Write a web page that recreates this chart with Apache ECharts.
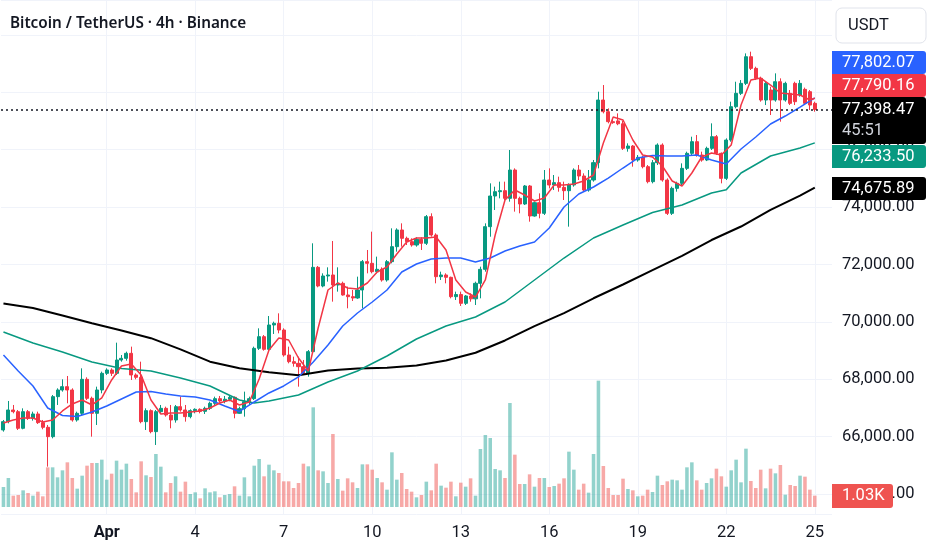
<!DOCTYPE html>
<html>
<head>
<meta charset="utf-8">
<title>BTCUSDT 4h</title>
<script src="https://cdn.jsdelivr.net/npm/echarts@6/dist/echarts.min.js"></script>
<style>
  html, body { margin: 0; padding: 0; background: #ffffff; }
  #chart { width: 932px; height: 550px; }
</style>
</head>
<body>
<div id="chart"></div>
<script>
// first candle opens 28 Mar 12:00, one candle every 4 hours
const firstCandle = Date.UTC(2025, 2, 28, 12);
const stepMs = 4 * 3600 * 1000;
const emptySlots = 3; // free space right of the last candle

// tick labels on the time axis
const tickDates = ['04-01 00:00', '04-04 00:00', '04-07 00:00', '04-10 00:00', '04-13 00:00',
  '04-16 00:00', '04-19 00:00', '04-22 00:00', '04-25 00:00'];
const tickTexts = ['Apr', '4', '7', '10', '13', '16', '19', '22', '25'];

// candles: [open, high, low, close]
const candles = [
  [66231, 66579, 66173, 66521], [66521, 67241, 66463, 66927], [66927, 67102, 66811, 66869],
  [66869, 66927, 66231, 66289], [66289, 66985, 66254, 66869], [66869, 66927, 66579, 66637],
  [66637, 66869, 66556, 66788], [66788, 66869, 66440, 66486], [66486, 66579, 66254, 66324],
  [66324, 66405, 64953, 65998], [65998, 67450, 65940, 67392], [67392, 67682, 67102, 67624],
  [67624, 67996, 67566, 67740], [67740, 68112, 67160, 67624], [67624, 67682, 66521, 66579],
  [66579, 66869, 66521, 66811], [66811, 68379, 66753, 67996], [67996, 68066, 67276, 67334],
  [67334, 67392, 65998, 66811], [66811, 67740, 66405, 67624], [67624, 68263, 67508, 68205],
  [68205, 68379, 68147, 68321], [68321, 68379, 68112, 68205], [68205, 69273, 68147, 68669],
  [68669, 68843, 68611, 68727], [68727, 68960, 68646, 68902], [68902, 69134, 67973, 68147],
  [68147, 68205, 67996, 68066], [68066, 68611, 66463, 66521], [66521, 66985, 66231, 66904],
  [66904, 66950, 66115, 66173], [66173, 66927, 65708, 66869], [66869, 67102, 66811, 66985],
  [66985, 67043, 66695, 66753], [66753, 67102, 66289, 66579], [66579, 67102, 66486, 67043],
  [67043, 67392, 66869, 66927], [66927, 67102, 66521, 66695], [66695, 66950, 66637, 66904],
  [66904, 66985, 66811, 66950], [66950, 66985, 66811, 66880], [66880, 67043, 66788, 66985],
  [66985, 67218, 66927, 67160], [67160, 67392, 67102, 67322], [67322, 67415, 67183, 67241],
  [67241, 67415, 67160, 67300], [67300, 67430, 67230, 67369], [67369, 67400, 66637, 66811],
  [66811, 67043, 66788, 66973], [66973, 67566, 66695, 67218], [67218, 67392, 67102, 67322],
  [67322, 69134, 67276, 69076], [69076, 69773, 69018, 69482], [69482, 69540, 68994, 69041],
  [69041, 70202, 68994, 69889], [69889, 70005, 69575, 69947], [69947, 70295, 69598, 69714],
  [69714, 69773, 68785, 68843], [68843, 69134, 68553, 68611], [68611, 68785, 68437, 68553],
  [68553, 68785, 67740, 68437], [68437, 68670, 68147, 68205], [68205, 69018, 68089, 68960],
  [68960, 72735, 68900, 71898], [71898, 71945, 71202, 71248], [71248, 71689, 71202, 71596],
  [71596, 71898, 71399, 71631], [71631, 72816, 70702, 71283], [71283, 71898, 71051, 71341],
  [71341, 71399, 70911, 70934], [70934, 71225, 70470, 70876], [70876, 71109, 70725, 70830],
  [70830, 71573, 70800, 71109], [71109, 72154, 70470, 72096], [72096, 72502, 71689, 72038],
  [72038, 73141, 71689, 71747], [71747, 72270, 71689, 71829], [71829, 71898, 71399, 71457],
  [71457, 72154, 71399, 72096], [72096, 73257, 72038, 72618], [72618, 73257, 72444, 73199],
  [73199, 73431, 72618, 72909], [72909, 72967, 72676, 72793], [72793, 72909, 72618, 72676],
  [72676, 72944, 72618, 72874], [72874, 72944, 72502, 72735], [72735, 73722, 72676, 73664],
  [73664, 73780, 72967, 73025], [73025, 73083, 71341, 71573], [71573, 71747, 71457, 71631],
  [71631, 71689, 71341, 71550], [71550, 71573, 70818, 70876], [70876, 71051, 70760, 70950],
  [70950, 71051, 70551, 70644], [70644, 70934, 70586, 70900], [70900, 70993, 70700, 70800],
  [70800, 71399, 70586, 71341], [71341, 71921, 70818, 71828], [71828, 73431, 71747, 73315],
  [73315, 74824, 72965, 74383], [74383, 74709, 73896, 74534], [74534, 74883, 74302, 74569],
  [74569, 74883, 74244, 74302], [74302, 75986, 74186, 75289], [75289, 75347, 73838, 74302],
  [74302, 74360, 73780, 74105], [74105, 74767, 74070, 74732], [74732, 74767, 73489, 73687],
  [73687, 74186, 73664, 74151], [74151, 74476, 73606, 73780], [73780, 75289, 73722, 74941],
  [74941, 75347, 74650, 74767], [74767, 75115, 74592, 74848], [74848, 75057, 74534, 74685],
  [74685, 74883, 74244, 74569], [74569, 74824, 73315, 74767], [74767, 75347, 74709, 75289],
  [75289, 75463, 74941, 75080], [75080, 75173, 74534, 74592], [74592, 75289, 74534, 74941],
  [74941, 75638, 74883, 75545], [75545, 78018, 75347, 77728], [77728, 78250, 77263, 77321],
  [77321, 77437, 76915, 76973], [76973, 77100, 76900, 76940], [77000, 77263, 76850, 76900],
  [76900, 77000, 75986, 76044], [76044, 76218, 75928, 76125], [76125, 76160, 75405, 75638],
  [75638, 75812, 75580, 75730], [75730, 75777, 75347, 75405], [75405, 75463, 74824, 74883],
  [74883, 75637, 74824, 75544], [75544, 76218, 75463, 76160], [76160, 76218, 74883, 74941],
  [74941, 74998, 73721, 73779], [73779, 74709, 73721, 74650], [74650, 74883, 74534, 74824],
  [74824, 75521, 74767, 75347], [75347, 75928, 75289, 75870], [75870, 76450, 75812, 76276],
  [76276, 76508, 75754, 75812], [75812, 75928, 75579, 75637], [75637, 76102, 75600, 76044],
  [76044, 76915, 75986, 76450], [76450, 76508, 75812, 75870], [75870, 75900, 74824, 74998],
  [74998, 76392, 74941, 76334], [76334, 77670, 76276, 77495], [77495, 78366, 77437, 77960],
  [77960, 78424, 77902, 78308], [78308, 79353, 78250, 79237], [79237, 79412, 78773, 78831],
  [78831, 78889, 78424, 78483], [78483, 78541, 77670, 77728], [77728, 78366, 77553, 78308],
  [78076, 78190, 77205, 77728], [77728, 78657, 77670, 78366], [78366, 78483, 76973, 77728],
  [77728, 78366, 77670, 78308], [77960, 78076, 77553, 77612], [78308, 78366, 77553, 77670],
  [77902, 78424, 77844, 78308], [78099, 78160, 77553, 77612], [78018, 78076, 77379, 77553],
  [77612, 77670, 77321, 77398.47]
];

// volume per candle (BTC)
const volumes = [
  1818, 2636, 1030, 1091, 1515, 1273, 1030, 1394, 970, 3606,
  3606, 2697, 3333, 4060, 2636, 1667, 2848, 3757, 4000, 4000,
  4303, 2485, 3030, 4212, 3394, 3939, 2545, 1333, 4151, 2879,
  2727, 4818, 3666, 1333, 2182, 2788, 1394, 2303, 1182, 1333,
  788, 1697, 1333, 1424, 879, 1091, 1182, 1879, 1030, 2697,
  970, 3757, 4363, 2788, 3848, 3333, 3091, 2333, 2333, 1727,
  2182, 3939, 3697, 9060, 3333, 3242, 2182, 6636, 2545, 1485,
  2606, 2242, 1727, 3878, 3878, 3394, 2636, 2242, 1576, 4969,
  2485, 3091, 1636, 1394, 879, 1091, 2303, 1515, 3939, 1939,
  1757, 2303, 970, 2212, 1848, 2606, 1030, 5272, 6545, 6272,
  3454, 3333, 2636, 9454, 4757, 2091, 2091, 2969, 1848, 2636,
  2636, 1818, 1909, 2121, 2606, 5030, 3394, 1576, 2121, 1303,
  4818, 11484, 3727, 1727, 1091, 1091, 2576, 1636, 1515, 970,
  1030, 1576, 1364, 2848, 2000, 2333, 2485, 2424, 1576, 3606,
  4060, 2424, 1576, 2182, 2606, 3485, 2788, 1848, 3333, 4303,
  2242, 5303, 2363, 1727, 3394, 1697, 3485, 3060, 3818, 1121,
  2000, 1909, 2848, 2757, 1576, 1030
];

// moving averages: [candle index, value]
const maRed = [
  [0, 66475], [2, 66579], [4, 66649], [6, 66649], [8, 66510], [10, 66579], [12, 66893],
  [14, 67137], [16, 67276], [18, 67102], [20, 67346], [22, 67973], [24, 68460], [26, 68530],
  [28, 68147], [30, 67276], [32, 66788], [34, 66823], [36, 66823], [38, 66858], [40, 66893],
  [42, 66997], [44, 67171], [46, 67276], [48, 67102], [50, 67206], [52, 68008], [54, 69018],
  [56, 69436], [58, 69366], [60, 68739], [62, 68286], [64, 69784], [66, 71108], [68, 71352],
  [70, 71178], [72, 71143], [74, 71352], [76, 71735], [78, 71910], [80, 72362], [82, 72781],
  [84, 72920], [86, 72920], [88, 72955], [90, 72502], [92, 71457], [94, 71039], [96, 70864],
  [98, 71457], [100, 73024], [102, 74244], [104, 74592], [106, 74418], [108, 74209],
  [110, 74314], [112, 74766], [114, 74766], [116, 74801], [118, 74906], [120, 75115],
  [122, 76230], [124, 77136], [126, 77031], [128, 76334], [130, 75812], [132, 75742],
  [134, 75428], [136, 74906], [138, 74732], [140, 75185], [142, 75742], [144, 75881],
  [146, 75812], [148, 76160], [150, 77554], [152, 78425], [154, 78494], [156, 78250],
  [158, 77972], [160, 77937], [162, 77902], [164, 77728], [165, 77790.16]
];
const maBlue = [
  [0, 68844], [3, 68286], [6, 67764], [9, 66997], [12, 66736], [15, 66701], [18, 66858],
  [21, 67067], [24, 67311], [27, 67555], [30, 67572], [33, 67485], [36, 67415], [39, 67380],
  [42, 67276], [45, 67067], [48, 66875], [51, 67206], [54, 67520], [57, 67764], [60, 68078],
  [63, 68600], [66, 69192], [69, 69854], [72, 70307], [75, 70690], [78, 71108], [81, 71735],
  [84, 72014], [87, 72188], [90, 72223], [93, 72223], [96, 72084], [99, 72223], [102, 72467],
  [105, 72641], [108, 72781], [111, 73268], [114, 74000], [117, 74453], [120, 74697],
  [123, 75010], [126, 75359], [129, 75707], [132, 75794], [135, 75777], [138, 75777],
  [141, 75812], [144, 75637], [147, 75498], [150, 76021], [153, 76439], [156, 76892],
  [159, 77170], [162, 77484], [165, 77802.07]
];
const maGreen = [
  [0, 69645], [6, 69262], [12, 68948], [18, 68600], [24, 68373], [30, 68286], [36, 68042],
  [42, 67764], [48, 67276], [51, 67170], [54, 67240], [60, 67451], [66, 67903], [72, 68286],
  [78, 68809], [84, 69401], [90, 69854], [96, 70168], [102, 70690], [108, 71457], [114, 72223],
  [120, 72920], [126, 73373], [132, 73808], [138, 74070], [144, 74488], [147, 74600],
  [150, 75185], [156, 75777], [162, 76056], [165, 76233.5]
];
const maBlack = [
  [0, 70640], [6, 70481], [12, 70220], [18, 69950], [24, 69700], [30, 69430], [36, 69040],
  [42, 68610], [48, 68380], [54, 68240], [60, 68140], [66, 68300], [72, 68370], [78, 68400],
  [84, 68480], [90, 68650], [96, 68920], [102, 69350], [108, 69850], [114, 70300], [120, 70820],
  [126, 71300], [132, 71800], [138, 72300], [144, 72850], [150, 73320], [156, 73900],
  [162, 74400], [165, 74675.89]
];

const title = 'Bitcoin / TetherUS · 4h · Binance';
const quoteCurrency = 'USDT';
const countdown = '45:51';
const lastVolumeText = '1.03K';

const UP = '#089981';
const DOWN = '#f23645';
const FONT = 'Roboto, "Noto Sans", sans-serif';

const pad = n => String(n).padStart(2, '0');
const categories = [];
for (let i = 0; i < candles.length + emptySlots; i++) {
  const d = new Date(firstCandle + i * stepMs);
  categories.push(pad(d.getUTCMonth() + 1) + '-' + pad(d.getUTCDate()) + ' ' +
    pad(d.getUTCHours()) + ':00');
}

const fmtPrice = v => v.toLocaleString('en-US', { minimumFractionDigits: 2, maximumFractionDigits: 2 });
const isTick = (index, value) => tickDates.indexOf(value) >= 0;
const lastClose = candles[candles.length - 1][3];
const lastOf = arr => arr[arr.length - 1][1];

const chart = echarts.init(document.getElementById('chart'), null, { renderer: 'canvas' });

// price badges on the scale, stacked like in the terminal (drawn above the axis labels)
function badge(y, h, color, text) {
  return {
    type: 'group',
    z: 100,
    children: [
      { type: 'rect', z: 100, shape: { x: 832, y: y, width: 94, height: h, r: [0, 3, 3, 0] }, style: { fill: color } },
      { type: 'text', z: 101, style: { x: 842, y: y + h / 2, text: text, fill: '#ffffff', font: '16.5px ' + FONT, verticalAlign: 'middle' } }
    ]
  };
}

const option = {
  animation: false,
  backgroundColor: '#ffffff',
  grid: [
    { left: 1, right: 100, top: 0, bottom: 36 },
    { left: 1, right: 100, top: 307, bottom: 43 }
  ],
  xAxis: [
    {
      type: 'category',
      data: categories,
      boundaryGap: true,
      axisLine: { show: false },
      axisTick: { show: false },
      axisLabel: {
        interval: isTick,
        margin: 10,
        color: '#131722',
        fontFamily: FONT,
        fontSize: 16.5,
        formatter: value => {
          const t = tickTexts[tickDates.indexOf(value)];
          return t === 'Apr' ? '{b|Apr}' : t;
        },
        rich: { b: { fontWeight: 'bold', fontFamily: FONT, fontSize: 16.5, color: '#131722' } }
      },
      splitLine: { show: true, interval: isTick, alignWithLabel: true, lineStyle: { color: '#f0f3fa', width: 1 } }
    },
    {
      type: 'category',
      gridIndex: 1,
      data: categories,
      boundaryGap: true,
      show: false
    }
  ],
  yAxis: [
    {
      type: 'value',
      position: 'right',
      min: 63303,
      max: 81213,
      splitNumber: 9,
      axisLine: { show: false },
      axisTick: { show: false },
      axisLabel: {
        margin: 10,
        color: '#131722',
        fontFamily: FONT,
        fontSize: 16.5,
        showMinLabel: false,
        showMaxLabel: false,
        formatter: v => fmtPrice(v)
      },
      splitLine: { lineStyle: { color: '#f0f3fa', width: 1 } }
    },
    {
      type: 'value',
      gridIndex: 1,
      min: 0,
      max: 18180,
      show: false,
      splitLine: { show: false }
    }
  ],
  series: [
    {
      name: 'Volume',
      type: 'bar',
      xAxisIndex: 1,
      yAxisIndex: 1,
      barWidth: '72%',
      z: 1,
      data: volumes.map((v, i) => ({
        value: v,
        itemStyle: { color: candles[i][3] >= candles[i][0] ? 'rgba(38,166,154,0.5)' : 'rgba(239,83,80,0.5)' }
      }))
    },
    {
      name: 'BTCUSDT',
      type: 'candlestick',
      barWidth: '72%',
      z: 3,
      data: candles.map(c => [c[0], c[3], c[2], c[1]]),
      itemStyle: { color: UP, color0: DOWN, borderColor: UP, borderColor0: DOWN, borderWidth: 1 },
      markLine: {
        silent: true,
        symbol: ['none', 'none'],
        label: { show: false },
        lineStyle: { color: '#131722', type: [2, 3], width: 1.5 },
        data: [{ yAxis: lastClose }]
      }
    },
    { name: 'MA long', type: 'line', data: maBlack, showSymbol: false, z: 4, lineStyle: { color: '#000000', width: 2 } },
    { name: 'MA mid', type: 'line', data: maGreen, showSymbol: false, z: 4, lineStyle: { color: '#089981', width: 1.5 } },
    { name: 'MA 20', type: 'line', data: maBlue, showSymbol: false, z: 4, lineStyle: { color: '#2962ff', width: 1.5 } },
    { name: 'MA 9', type: 'line', data: maRed, showSymbol: false, z: 5, lineStyle: { color: '#f23645', width: 1.5 } }
  ],
  graphic: [
    { type: 'text', z: 100, style: { x: 10, y: 24, text: title, fill: '#131722', font: '600 15.3px "Noto Sans", sans-serif', verticalAlign: 'middle' } },
    { type: 'rect', z: 100, shape: { x: 836, y: 8, width: 90, height: 35, r: 6 }, style: { fill: '#ffffff', stroke: '#e0e3eb', lineWidth: 1 } },
    { type: 'text', z: 101, style: { x: 848, y: 26, text: quoteCurrency, fill: '#131722', font: '16.5px ' + FONT, verticalAlign: 'middle' } },
    badge(51, 23, '#2962ff', fmtPrice(lastOf(maBlue))),
    badge(74, 23, '#f23645', fmtPrice(lastOf(maRed))),
    {
      type: 'group',
      z: 100,
      children: [
        { type: 'rect', z: 100, shape: { x: 832, y: 97, width: 94, height: 47, r: [0, 3, 3, 0] }, style: { fill: '#000000' } },
        { type: 'text', z: 101, style: { x: 842, y: 110, text: fmtPrice(lastClose), fill: '#ffffff', font: '16.5px ' + FONT, verticalAlign: 'middle' } },
        { type: 'text', z: 101, style: { x: 842, y: 131, text: countdown, fill: '#d1d4dc', font: '16.5px ' + FONT, verticalAlign: 'middle' } }
      ]
    },
    badge(145, 23, '#089981', fmtPrice(lastOf(maGreen))),
    badge(177, 23, '#000000', fmtPrice(lastOf(maBlack))),
    {
      type: 'group',
      z: 100,
      children: [
        { type: 'rect', z: 100, shape: { x: 832, y: 484, width: 61, height: 24, r: [0, 3, 3, 0] }, style: { fill: '#ef5350' } },
        { type: 'text', z: 101, style: { x: 842, y: 496, text: lastVolumeText, fill: '#ffffff', font: '16.5px ' + FONT, verticalAlign: 'middle' } }
      ]
    }
  ]
};

chart.setOption(option);
</script>
</body>
</html>
